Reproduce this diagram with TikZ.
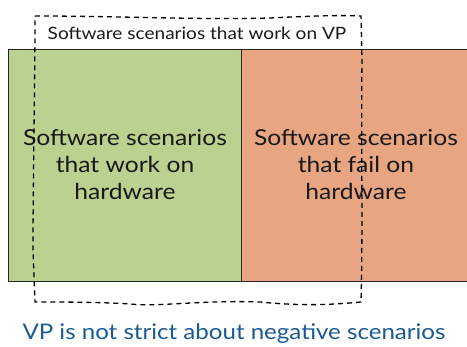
\documentclass[tikz,border=0pt]{standalone}
\usepackage{fontspec}
\setmainfont{Lato}[FakeStretch=1.12]
\definecolor{hwgreen}{HTML}{BBD18F}
\definecolor{hworange}{HTML}{E8A582}
\definecolor{vpblue}{HTML}{1A5A96}
\begin{document}
\begin{tikzpicture}[x=1pt,y=-1pt,
  box/.style={draw=black!85,line width=0.8pt},
  big/.style={font=\fontsize{22}{27}\selectfont,align=center,text=black!90},
  vp/.style={draw=black,line width=1.3pt,dash pattern=on 5pt off 4pt}]
\useasboundingbox (0,0) rectangle (467,347);
\fill[white] (0,0) rectangle (467,347);
\node[box,fill=hwgreen,minimum width=233,minimum height=232,anchor=north west,inner sep=0] (work) at (8,49) {};
\node[box,fill=hworange,minimum width=226,minimum height=232,anchor=north west,inner sep=0] (fail) at (241,49) {};
\node[big] (worktxt) at (125,165) {Software scenarios\\that work on\\hardware};
\node[big] (failtxt) at (356,165) {Software scenarios\\that fail on\\hardware};
\draw[vp] (35,16) .. controls (120,16) and (200,20) .. (270,18)
  .. controls (310,16) and (340,15) .. (361,16)
  -- (362,60) .. controls (361,150) and (363,230) .. (361,302)
  .. controls (330,305) and (300,306) .. (260,302)
  .. controls (200,300) and (160,307) .. (130,304)
  .. controls (100,302) and (60,302) .. (35,302)
  -- (33,250) .. controls (33,180) and (35,80) .. (35,16) -- cycle;
\node[font=\fontsize{17}{20}\selectfont,text=black!90] (vptxt) at (197,33) {Software scenarios that work on VP};
\node[font=\fontsize{21.5}{25}\selectfont,text=vpblue] (note) at (234,334) {VP is not strict about negative scenarios};
\end{tikzpicture}
\end{document}
